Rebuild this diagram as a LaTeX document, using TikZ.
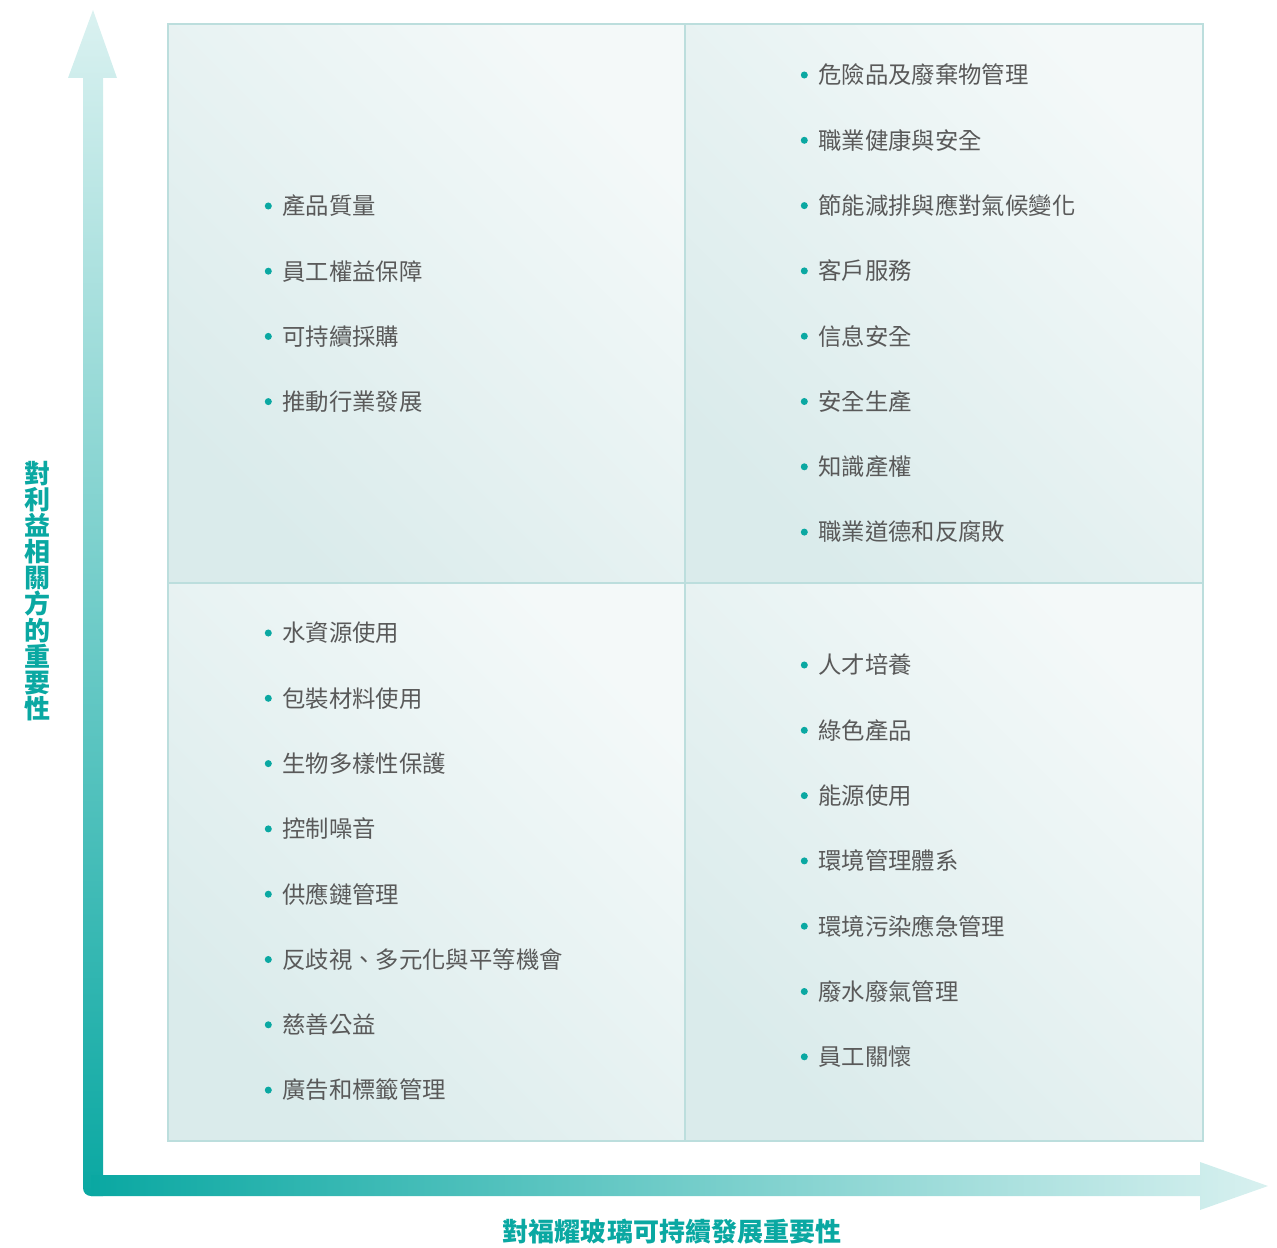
\documentclass[tikz,border=0pt]{standalone}
\usepackage{fontspec}
\setmainfont{Noto Sans CJK TC}
\usepackage{xcolor}
\definecolor{fy-teal}{HTML}{0AA8A2}
\definecolor{fy-pale}{HTML}{D4EFEE}
\definecolor{fy-text}{HTML}{595959}
\definecolor{quad-dark}{HTML}{DAEBEB}
\definecolor{quad-light}{HTML}{F4F9F9}
\definecolor{quad-line}{HTML}{BCDEDD}
\tikzset{
    quad-box/.style = {draw=quad-line, line width=0.8pt, top color=quad-light, bottom color=quad-dark, shading angle=-45},
    bullet-dot/.style = {circle, fill=fy-teal, inner sep=0pt, minimum size=4pt},
    item/.style = {anchor=west, inner sep=0pt, text=fy-text, font=\fontsize{13.3}{16}\selectfont, label={[bullet-dot, label distance=5.6pt]left:{}}},
    axis-label/.style = {text=fy-teal, font=\fontsize{14.8}{14.9}\selectfont\bfseries, inner sep=0pt},
}

\begin{document}
\begin{tikzpicture}[x=0.02cm, y=-0.02cm]
\useasboundingbox (0,0) rectangle (1277,1247);

% quadrants
\path[quad-box] (168,24) rectangle (685,583);
\path[quad-box] (685,24) rectangle (1203,583);
\path[quad-box] (168,583) rectangle (685,1141);
\path[quad-box] (685,583) rectangle (1203,1141);

% axes
\shade[top color=fy-pale!85!white, bottom color=fy-teal]
    (93,10) -- (117,78) -- (103,78) -- (103,1196) -- (91,1196) arc (90:180:8) -- (83,78) -- (68,78) -- cycle;
\shade[left color=fy-teal, right color=fy-pale!90!white]
    (91,1175) -- (1200,1175) -- (1200,1162) -- (1268,1186) -- (1200,1210) -- (1200,1196) -- (91,1196) -- cycle;

\node[axis-label, align=center] (ylab) at (38,591) {對\\利\\益\\相\\關\\方\\的\\重\\要\\性};
\node[axis-label] (xlab) at (672,1232) {對福耀玻璃可持續發展重要性};

% top left
\foreach \t [count=\i] in {產品質量, 員工權益保障, 可持續採購, 推動行業發展}
    \node[item] (tl\i) at (282,{206+65.2*(\i-1)}) {\t};
% top right
\foreach \t [count=\i] in {危險品及廢棄物管理, 職業健康與安全, 節能減排與應對氣候變化, 客戶服務, 信息安全, 安全生產, 知識產權, 職業道德和反腐敗}
    \node[item] (tr\i) at (818,{75+65.3*(\i-1)}) {\t};
% bottom left
\foreach \t [count=\i] in {水資源使用, 包裝材料使用, 生物多樣性保護, 控制噪音, 供應鏈管理, 反歧視、多元化與平等機會, 慈善公益, 廣告和標籤管理}
    \node[item] (bl\i) at (282,{633+65.3*(\i-1)}) {\t};
% bottom right
\foreach \t [count=\i] in {人才培養, 綠色產品, 能源使用, 環境管理體系, 環境污染應急管理, 廢水廢氣管理, 員工關懷}
    \node[item] (br\i) at (818,{665+65.3*(\i-1)}) {\t};
\end{tikzpicture}
\end{document}
